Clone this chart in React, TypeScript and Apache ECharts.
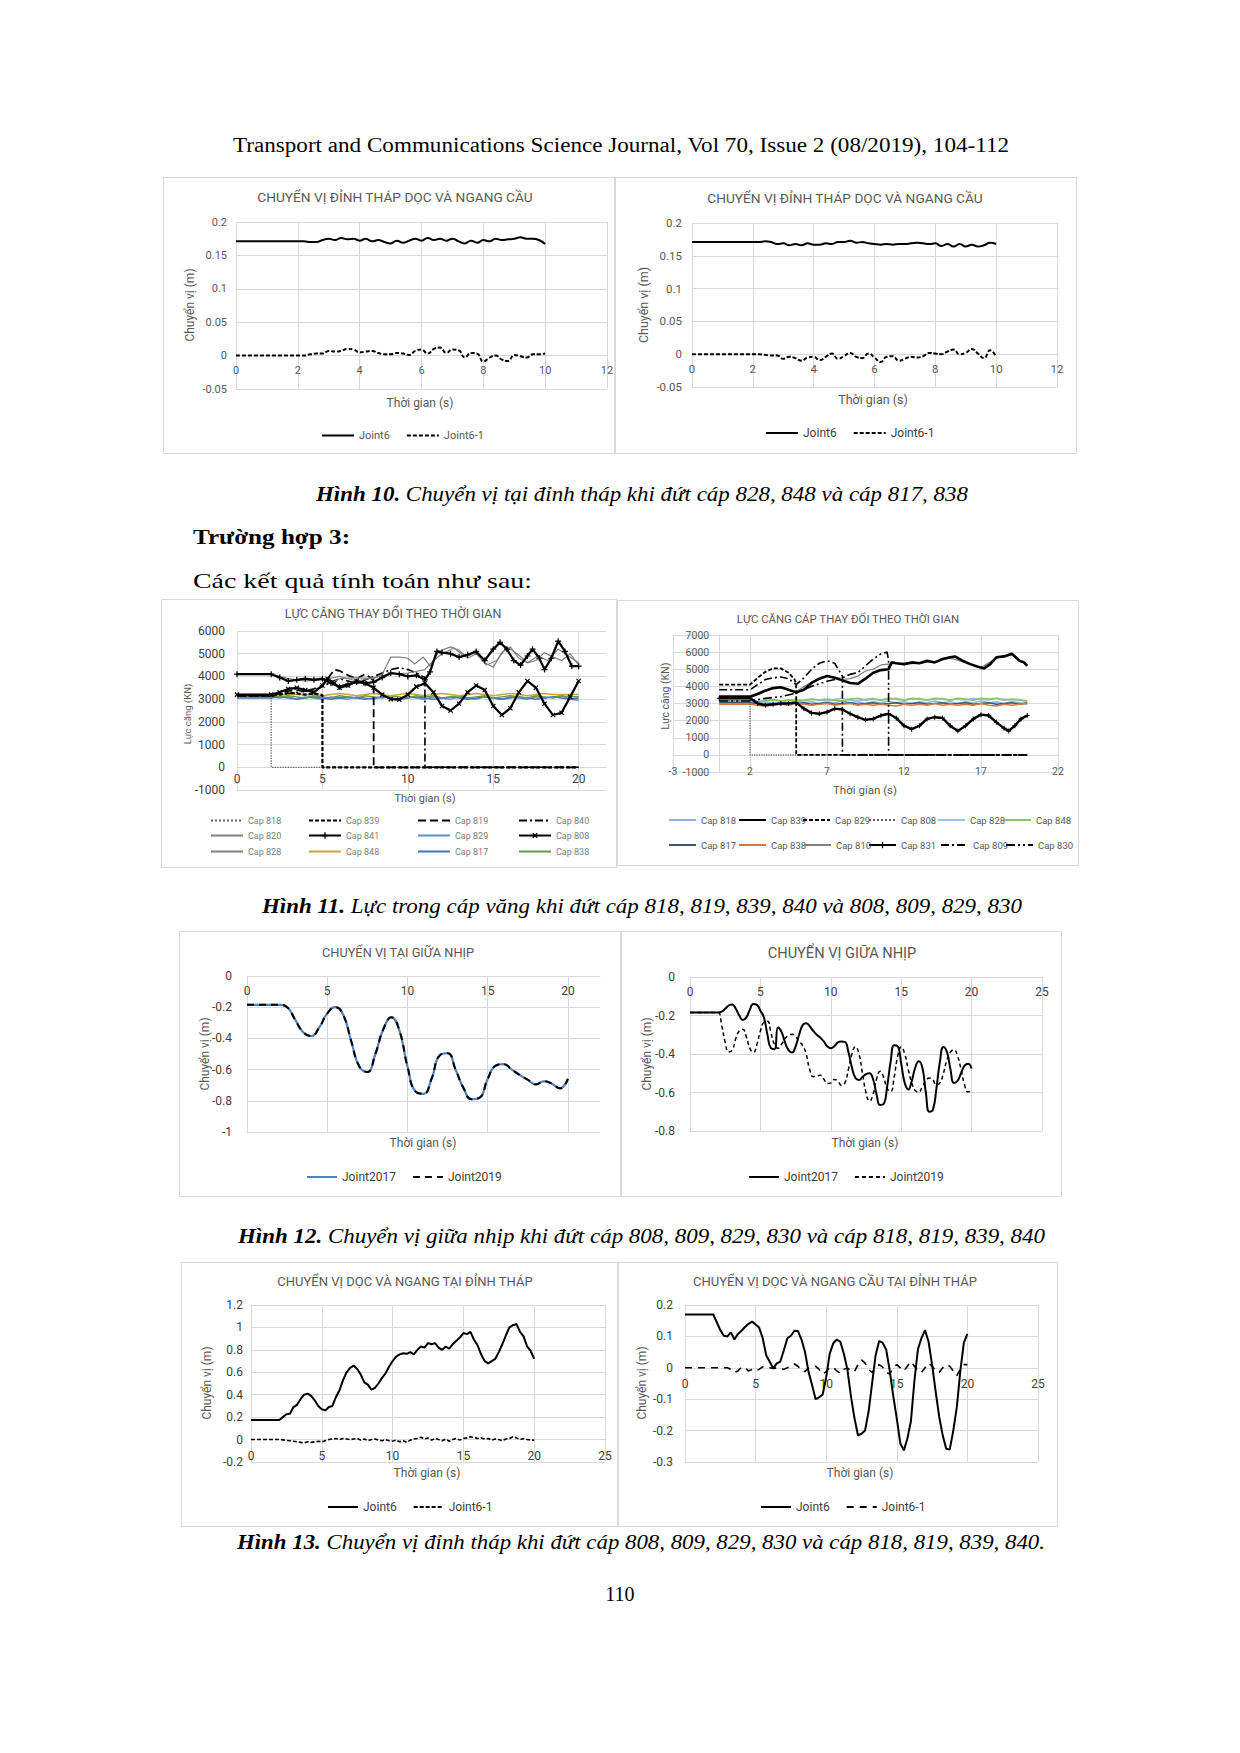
import React, { useEffect, useRef } from "react";
import * as echarts from "echarts";

const FONT = "Roboto, 'Noto Sans', sans-serif";
const SERIF = "'Liberation Serif', 'DejaVu Serif', serif";
const GRID_COLOR = "#d9d9d9";

// ---------------- Hình 10 (step 0.2 s) ----------------
const F10_STEP = 0.2;
const F10L_JOINT6 = [
  0.171, 0.171, 0.171, 0.171, 0.171, 0.171, 0.171, 0.171, 0.171, 0.171, 0.171, 0.171, 0.17, 0.17,
  0.173, 0.175, 0.173, 0.176, 0.174, 0.175, 0.172, 0.175, 0.171, 0.173,
  0.17, 0.168, 0.172, 0.169, 0.172, 0.175, 0.172, 0.176, 0.173, 0.175,
  0.172, 0.175, 0.171, 0.168, 0.172, 0.169, 0.173, 0.171, 0.175, 0.173,
  0.174, 0.175, 0.177, 0.175, 0.175, 0.173, 0.167,
];
const F10L_JOINT61 = [
  0, 0, 0, 0, 0, 0, 0, 0, 0, 0, 0, 0,
  0.002, 0.003, 0.003, 0.007, 0.006, 0.007, 0.01, 0.009, 0.005, 0.006,
  0.007, 0.004, 0.002, 0.002, 0.004, 0.003, 0.001, 0.007, 0.009, 0.003,
  0.01, 0.012, 0.004, 0.009, 0.008, -0.003, 0.004, 0.003, -0.009, -0.003,
  0.0, -0.006, -0.008, 0.001, -0.001, -0.003, 0.002, 0.002, 0.003,
];
const F10R_JOINT6 = [
  0.171, 0.171, 0.171, 0.171, 0.171, 0.171, 0.171, 0.171, 0.171, 0.171, 0.171, 0.171, 0.172, 0.171,
  0.168, 0.169, 0.166, 0.168, 0.166, 0.169, 0.167, 0.167, 0.169, 0.168,
  0.171, 0.171, 0.173, 0.17, 0.171, 0.169, 0.168, 0.167, 0.168, 0.167,
  0.168, 0.168, 0.169, 0.17, 0.169, 0.168, 0.169, 0.165, 0.168, 0.164,
  0.168, 0.164, 0.167, 0.164, 0.166, 0.17, 0.168,
];
const F10R_JOINT61 = [
  0, 0, 0, 0, 0, 0, 0, 0, 0, 0, 0, 0,
  -0.001, -0.002, -0.002, -0.007, -0.004, -0.006, -0.01, -0.005, -0.004, -0.009,
  -0.004, 0.001, -0.007, -0.003, 0.002, -0.004, -0.006, 0.001, -0.005, -0.012,
  -0.004, -0.003, -0.01, -0.007, -0.004, -0.005, -0.003, 0.002, 0.001, 0.0,
  0.004, 0.007, 0.0, 0.002, 0.008, 0.001, -0.006, 0.006, -0.004,
];

// ---------------- Hình 11 (KN) ----------------
const F11_STEP = 0.5;
const F11L_CAP818 = [[0, 3150], [2, 3150], [2, 0], [20, 0]];
const F11L_CAP839 = [[0, 3150], [2, 3150], [2.5, 3200], [3, 3280], [3.5, 3250], [4, 3200], [4.5, 3250], [5, 3180], [5, 0], [20, 0]];
const F11L_CAP819 = [[0, 3150], [2, 3150], [2.5, 3250], [3, 3350], [3.5, 3400], [4, 3350], [4.5, 3450], [5, 3600], [5.4, 4000], [5.7, 4300], [6, 4250], [6.5, 4050], [7, 3900], [7.5, 4100], [7.8, 3950], [8, 3800], [8, 0], [20, 0]];
const F11L_CAP840 = [[0, 3150], [2, 3150], [2.5, 3200], [3, 3250], [3.5, 3300], [4, 3350], [4.5, 3400], [5, 3550], [5.5, 3750], [6, 3900], [6.5, 3800], [7, 3700], [7.5, 3850], [8, 4000], [8.5, 4150], [9, 4300], [9.5, 4380], [10, 4300], [10.5, 4150], [11, 3950], [11, 0], [20, 0]];
const F11L_CAP820 = [[0, 4100], [2, 4100], [2.5, 3950], [3, 3800], [4, 3850], [5, 3900], [5.5, 3700], [6, 3900], [7, 3950], [8, 3900], [8.5, 4100], [9, 4850], [9.5, 4850], [10, 4800], [10.4, 4550], [10.9, 4850], [11.3, 4450], [11.8, 5100], [12.5, 5300], [13, 5150], [13.5, 4800], [14, 5000], [14.5, 4600], [15, 4400], [15.5, 5050], [16, 5300], [16.5, 4800], [17, 4600], [17.5, 4700], [18, 5050], [18.5, 4850], [19, 4700], [19.5, 5000], [20, 4500]];
const F11L_CAP841 = [[0, 4100], [2, 4100], [2.5, 3950], [3, 3800], [3.5, 3850], [4, 3900], [4.5, 3850], [5, 3900], [5.5, 3700], [6, 3550], [6.5, 3650], [7, 3750], [7.5, 3700], [8, 3750], [8.5, 3950], [9, 4150], [9.5, 4100], [10, 4000], [10.5, 4050], [11, 3850], [11.3, 4200], [11.7, 5100], [12, 5050], [12.5, 5000], [13, 4850], [13.5, 4950], [14, 5100], [14.5, 4700], [15, 5200], [15.4, 5500], [15.8, 5200], [16.2, 4700], [16.6, 4500], [17, 4900], [17.3, 5200], [17.7, 4800], [18, 4300], [18.4, 4800], [18.8, 5550], [19.2, 5100], [19.6, 4450], [20, 4450]];
const F11L_CAP829 = [3100, 3100, 3100, 3100, 3100, 3050, 3100, 3000, 3100, 3050, 3000, 3100, 3050, 3000, 3100, 3050, 3000, 3100, 3050, 3000, 3100, 3050, 3000, 3100, 3050, 3000, 3100, 3050, 3000, 3100, 3050, 3000, 3100, 3050, 3000, 3100, 3050, 3100, 3150, 3000, 2950];
const F11L_CAP808 = [[0, 3200], [2, 3200], [2.5, 3300], [3, 3450], [3.5, 3500], [4, 3400], [4.5, 3300], [5, 3600], [5.3, 3900], [5.7, 3700], [6, 3500], [6.5, 3600], [7, 3800], [7.5, 3700], [8, 3500], [8.5, 3200], [9, 3000], [9.5, 2980], [10, 3200], [10.5, 3550], [11, 3700], [11.5, 3300], [12, 2700], [12.5, 2500], [13, 2800], [13.5, 3300], [14, 3600], [14.5, 3400], [15, 2700], [15.5, 2300], [16, 2600], [16.5, 3300], [17, 3800], [17.5, 3500], [18, 2800], [18.5, 2300], [19, 2400], [19.5, 3100], [20, 3800]];
const F11L_CAP828 = [[0, 4100], [2, 4100], [3, 3900], [4, 3800], [5, 3850], [6, 4000], [7, 3800], [8, 3950], [9, 4100], [10, 4150], [11, 4300], [11.5, 4700], [12, 5000], [12.7, 5250], [13.3, 4900], [14, 5050], [14.6, 4500], [15.2, 4700], [15.8, 5300], [16.4, 5000], [17, 4600], [17.6, 4900], [18.2, 4700], [18.8, 5200], [19.4, 4900], [20, 4600]];
const F11L_CAP848 = [3200, 3200, 3200, 3200, 3200, 3180, 3220, 3200, 3180, 3220, 3150, 3200, 3250, 3200, 3150, 3200, 3250, 3200, 3150, 3200, 3250, 3200, 3150, 3200, 3250, 3200, 3150, 3200, 3250, 3200, 3150, 3200, 3250, 3200, 3150, 3200, 3250, 3200, 3200, 3200, 3200];
const F11L_CAP817 = [3050, 3050, 3050, 3050, 3050, 3100, 3050, 3000, 3050, 3100, 3050, 3000, 3050, 3100, 3050, 3000, 3050, 3100, 3050, 3000, 3050, 3100, 3050, 3000, 3050, 3100, 3050, 3000, 3050, 3100, 3050, 3000, 3050, 3100, 3050, 3000, 3050, 3100, 3050, 3000, 3050];
const F11L_CAP838 = [3150, 3150, 3150, 3150, 3150, 3100, 3150, 3100, 3050, 3150, 3100, 3050, 3150, 3100, 3050, 3150, 3100, 3050, 3150, 3100, 3050, 3150, 3100, 3150, 3050, 3100, 3150, 3050, 3100, 3150, 3050, 3100, 3150, 3100, 3050, 3150, 3100, 3050, 3150, 3100, 3100];

const F11R_CAP818 = [3100, 3100, 3100, 3100, 3100, 3050, 3100, 3000, 3100, 3050, 3150, 3050, 3100, 3000, 3100, 3050, 3150, 3050, 3100, 3000, 3100, 3050, 3150, 3050, 3100, 3000, 3100, 3050, 3150, 3050, 3100, 3000, 3100, 3050, 3150, 3050, 3100, 3000, 3100, 3050, 2950];
const F11R_CAP839 = [[0, 3400], [2, 3400], [2.5, 3550], [3, 3750], [3.5, 3900], [4, 3950], [4.5, 3800], [5, 3650], [5.5, 3800], [6, 4200], [6.5, 4450], [7, 4600], [7.5, 4500], [8, 4350], [8.5, 4200], [9, 4150], [9.5, 4450], [10, 4800], [10.5, 4950], [11, 5000], [11.2, 5400], [11.5, 5350], [12, 5300], [12.5, 5400], [13, 5350], [13.5, 5500], [14, 5400], [14.5, 5600], [15, 5700], [15.3, 5750], [15.8, 5500], [16.3, 5300], [16.8, 5150], [17.2, 5050], [17.6, 5300], [18, 5700], [18.5, 5750], [19, 5900], [19.5, 5500], [19.8, 5400], [20, 5200]];
const F11R_CAP829 = [[0, 4100], [2, 4100], [2.5, 4500], [3, 4850], [3.5, 5050], [4, 5050], [4.5, 4800], [4.9, 4400], [5, 4150], [5, 0], [20, 0]];
const F11R_CAP808 = [[0, 3150], [2, 3150], [2, 0], [20, 0]];
const F11R_CAP828 = [3200, 3200, 3200, 3200, 3200, 3150, 3200, 3250, 3150, 3200, 3250, 3150, 3250, 3200, 3150, 3250, 3300, 3200, 3150, 3250, 3300, 3200, 3250, 3300, 3200, 3250, 3300, 3200, 3250, 3300, 3200, 3250, 3200, 3300, 3250, 3200, 3300, 3250, 3200, 3250, 3100];
const F11R_CAP848 = [3150, 3150, 3150, 3150, 3150, 3100, 3150, 3200, 3150, 3200, 3150, 3200, 3250, 3200, 3250, 3200, 3150, 3250, 3300, 3200, 3250, 3200, 3300, 3250, 3200, 3300, 3250, 3200, 3300, 3250, 3200, 3300, 3250, 3200, 3300, 3250, 3300, 3200, 3250, 3200, 3150];
const F11R_CAP817 = [3050, 3050, 3050, 3050, 3050, 3000, 2950, 3000, 2950, 3050, 3000, 3050, 2950, 3000, 3050, 2950, 3000, 3050, 2950, 3000, 3050, 2950, 3000, 3050, 2950, 3000, 3050, 2950, 3000, 3050, 2950, 3000, 3050, 2950, 3000, 3050, 2950, 3000, 3050, 2950, 3050];
const F11R_CAP838 = [2950, 2950, 2950, 2950, 2950, 2900, 2850, 2900, 2950, 2900, 3000, 2950, 2900, 2950, 3000, 2900, 2950, 3000, 2900, 2950, 2900, 2950, 2900, 2850, 2950, 2900, 2950, 2900, 3000, 2900, 2950, 2900, 2950, 2900, 3000, 2900, 2850, 2950, 2900, 2950, 3000];
const F11R_CAP810 = [[0, 3400], [2, 3400], [3, 3800], [4, 3950], [5, 3700], [6, 4250], [7, 4600], [8, 4400], [8.5, 4450], [9, 4600], [9.5, 4900], [10, 5000], [10.5, 5250], [11, 5300], [11.5, 5350], [12, 5300], [13, 5350], [14, 5450], [15, 5650], [16, 5400], [17, 5100], [18, 5650], [19, 5850], [20, 5200]];
const F11R_CAP831 = [[0, 3300], [2, 3300], [2.5, 3000], [3, 2900], [3.5, 2950], [4, 3000], [4.5, 3000], [5, 3050], [5.5, 2700], [6, 2450], [6.5, 2400], [7, 2500], [7.5, 2700], [8, 2650], [8.5, 2400], [9, 2200], [9.5, 2050], [10, 2100], [10.5, 2300], [11, 2400], [11.5, 2150], [12, 1700], [12.5, 1500], [13, 1700], [13.5, 2100], [14, 2200], [14.5, 2150], [15, 1700], [15.5, 1400], [16, 1700], [16.5, 2100], [17, 2350], [17.5, 2300], [18, 1900], [18.5, 1550], [18.8, 1400], [19.2, 1700], [19.6, 2100], [20, 2300]];
const F11R_CAP809 = [[0, 3800], [2, 3800], [2.5, 4100], [3, 4400], [3.5, 4500], [4, 4550], [4.5, 4450], [5, 4100], [5.5, 4500], [6, 5000], [6.5, 5350], [7, 5500], [7.5, 5350], [8, 4600], [8, 0], [20, 0]];
const F11R_CAP830 = [[0, 3150], [2, 3150], [3, 3300], [4, 3400], [5, 3600], [6, 4000], [7, 4300], [8, 4500], [8.5, 4700], [9, 4800], [9.5, 5200], [10, 5600], [10.5, 5900], [10.9, 6000], [11, 5500], [11, 0], [20, 0]];

// ---------------- Hình 12 ----------------
const F12L_STEP = 0.5;
const F12L_J2017 = [
  -0.185, -0.185, -0.185, -0.185, -0.185, -0.2, -0.28, -0.36, -0.385, -0.33,
  -0.24, -0.2, -0.25, -0.42, -0.58, -0.615, -0.5, -0.34, -0.265, -0.35,
  -0.58, -0.74, -0.755, -0.66, -0.51, -0.495, -0.6, -0.72, -0.79, -0.78,
  -0.66, -0.575, -0.565, -0.6, -0.635, -0.665, -0.695, -0.675, -0.69, -0.72, -0.66,
];
const F12L_J2019 = [
  -0.185, -0.185, -0.185, -0.185, -0.185, -0.2, -0.28, -0.36, -0.385, -0.33,
  -0.24, -0.2, -0.25, -0.42, -0.58, -0.615, -0.5, -0.34, -0.265, -0.35,
  -0.58, -0.74, -0.755, -0.66, -0.51, -0.495, -0.6, -0.72, -0.79, -0.78,
  -0.66, -0.575, -0.565, -0.6, -0.635, -0.665, -0.695, -0.675, -0.69, -0.72, -0.66,
];
const F12R_STEP = 0.25;
const F12R_J2017 = [
  -0.185, -0.185, -0.185, -0.185, -0.185, -0.185, -0.185, -0.185, -0.185,
  -0.18, -0.165, -0.148, -0.143, -0.165, -0.2, -0.224, -0.21,
  -0.17, -0.14, -0.145, -0.175, -0.21, -0.3, -0.37, -0.375,
  -0.262, -0.285, -0.34, -0.38, -0.392, -0.36, -0.3, -0.25,
  -0.24, -0.255, -0.28, -0.3, -0.315, -0.335, -0.36, -0.37,
  -0.36, -0.34, -0.335, -0.337, -0.39, -0.47, -0.525, -0.535,
  -0.52, -0.505, -0.5, -0.53, -0.61, -0.665, -0.66, -0.57,
  -0.44, -0.355, -0.36, -0.45, -0.55, -0.584, -0.54, -0.47,
  -0.438, -0.47, -0.6, -0.7, -0.69, -0.58, -0.44, -0.363,
  -0.39, -0.48, -0.55, -0.54, -0.5, -0.46, -0.45, -0.475,
];
const F12R_J2019 = [
  -0.185, -0.185, -0.185, -0.185, -0.185, -0.185, -0.185, -0.185, -0.185,
  -0.25, -0.34, -0.39, -0.38, -0.32, -0.28, -0.272, -0.31,
  -0.37, -0.392, -0.35, -0.28, -0.235, -0.23, -0.29, -0.35,
  -0.37, -0.35, -0.32, -0.305, -0.298, -0.31, -0.335, -0.355,
  -0.4, -0.48, -0.518, -0.515, -0.51, -0.53, -0.553, -0.55,
  -0.532, -0.54, -0.562, -0.55, -0.48, -0.4, -0.362, -0.4,
  -0.5, -0.6, -0.645, -0.61, -0.53, -0.49, -0.52, -0.58,
  -0.595, -0.52, -0.41, -0.363, -0.4, -0.48, -0.55, -0.59,
  -0.598, -0.57, -0.54, -0.525, -0.535, -0.56, -0.55, -0.5,
  -0.43, -0.39, -0.378, -0.41, -0.48, -0.56, -0.597, -0.59,
];

// ---------------- Hình 13 (step 0.25 s) ----------------
const F13_STEP = 0.25;
const F13L_JOINT6 = [
  0.175, 0.175, 0.175, 0.175, 0.175, 0.175, 0.175, 0.175, 0.175,
  0.2, 0.225, 0.23, 0.29, 0.31, 0.36, 0.4, 0.41,
  0.39, 0.35, 0.3, 0.27, 0.26, 0.29, 0.3, 0.38,
  0.44, 0.53, 0.6, 0.64, 0.66, 0.63, 0.58, 0.51,
  0.49, 0.445, 0.46, 0.5, 0.55, 0.59, 0.65, 0.7,
  0.74, 0.76, 0.77, 0.765, 0.78, 0.76, 0.8, 0.83,
  0.82, 0.86, 0.85, 0.86, 0.82, 0.8, 0.83, 0.81,
  0.85, 0.88, 0.91, 0.95, 0.94, 0.96, 0.89, 0.84,
  0.76, 0.7, 0.68, 0.7, 0.72, 0.78, 0.85, 0.93,
  1.0, 1.02, 1.03, 0.96, 0.92, 0.83, 0.79, 0.72,
];
const F13L_JOINT61 = [
  0, 0, 0, 0, 0, 0, 0, 0, 0,
  -0.003, -0.008, -0.01, -0.015, -0.02, -0.025, -0.03, -0.02,
  -0.025, -0.02, -0.015, -0.02, -0.01, 0, 0.005, 0.01,
  0, 0.01, 0.005, 0, 0.005, 0.01, -0.005, 0.005,
  -0.01, 0, 0.005, -0.005, -0.01, 0, -0.01, -0.015,
  -0.005, -0.02, -0.01, -0.025, -0.005, 0.005, 0.01, 0.02,
  0.005, 0.015, -0.005, 0.01, 0, -0.01, 0.005, -0.015,
  0, 0.01, -0.005, 0.01, 0.015, 0.025, 0.02, 0.01,
  0.015, 0.005, 0.01, -0.005, 0.005, 0, -0.01, 0.005,
  0.01, 0.025, 0.015, 0, 0.01, 0, -0.005, -0.005,
];
const F13R_JOINT6 = [
  0.17, 0.17, 0.17, 0.17, 0.17, 0.17, 0.17, 0.17, 0.17,
  0.145, 0.12, 0.102, 0.1, 0.113, 0.09, 0.108, 0.118,
  0.13, 0.14, 0.147, 0.138, 0.128, 0.095, 0.04, 0.019,
  -0.002, 0.014, 0.02, 0.056, 0.094, 0.102, 0.118, 0.117,
  0.09, 0.05, -0.013, -0.055, -0.1, -0.094, -0.085, -0.03,
  0.045, 0.078, 0.09, 0.083, 0.045, -0.005, -0.09, -0.16,
  -0.215, -0.21, -0.2, -0.14, -0.05, 0.04, 0.085, 0.08,
  0.058, -0.01, -0.09, -0.162, -0.241, -0.263, -0.225, -0.17,
  -0.04, 0.06, 0.095, 0.12, 0.083, 0.009, -0.075, -0.155,
  -0.215, -0.258, -0.26, -0.2, -0.125, -0.01, 0.08, 0.108,
];
const F13R_JOINT61 = [
  0, 0, 0, 0, 0, 0, 0, 0, 0, 0, 0, 0, 0,
  -0.005, -0.015, -0.01, 0.002, 0, -0.01, -0.005, -0.01,
  -0.005, 0.003, 0, 0, -0.002, 0, -0.003, -0.005,
  0, 0.005, 0.012, 0.005, -0.01, -0.012, 0, 0.003,
  0.005, -0.005, -0.02, -0.012, 0, 0.002, -0.01, -0.018,
  -0.005, 0, -0.01, -0.012, 0.01, 0.025, 0.015, -0.005,
  -0.015, 0, 0.01, 0.002, -0.015, -0.02, 0, 0.01,
  0, -0.01, 0.005, 0.02, 0.005, -0.01, -0.015, 0,
  0.015, 0.005, -0.01, -0.015, 0, 0.01, 0.005, -0.01,
  -0.025, -0.005, 0.01, 0.01,
];

// ---------------- helpers ----------------
const PLUS = "path://M0,4L10,4L10,6L0,6Z M4,0L6,0L6,10L4,10Z";

function steps(values: number[], step: number) {
  return values.map((v, i) => [i * step, v]);
}

function line(name: string, data: any[], color: string, width: number, type: any, extra: any = {}) {
  return {
    name,
    type: "line",
    data,
    symbol: "none",
    lineStyle: { color, width, type },
    itemStyle: { color },
    emphasis: { disabled: true },
    ...extra,
  };
}

function marked(name: string, data: any[], color: string, width: number, size: number, rotate: number) {
  return line(name, data, color, width, "solid", {
    symbol: PLUS,
    symbolSize: size,
    symbolRotate: rotate,
    showSymbol: true,
    showAllSymbol: true,
  });
}

type Cfg = {
  grid: number[];
  x: number[];
  y: number[];
  title: [string, number, number, number];
  yName: [string, number, number, number];
  xName: [string, number, number, number];
  labelSize: number;
  labelColor: string;
  xMargin: number;
  yMargin: number;
  xOffset: number;
  yOffset?: number;
  hideMaxX?: boolean;
  yLine?: boolean;
  legend: any;
  series: any[];
};

function txt(t: [string, number, number, number], color: string, rot = 0) {
  return {
    type: "text",
    x: t[1],
    y: t[2],
    rotation: rot,
    style: {
      text: t[0],
      fontSize: t[3],
      fill: color,
      fontFamily: FONT,
      align: "center",
      verticalAlign: "middle",
      textAlign: "center",
      textVerticalAlign: "middle",
    },
  };
}

function buildOption(c: Cfg) {
  return {
    animation: false,
    textStyle: { fontFamily: FONT },
    grid: {
      left: c.grid[0],
      top: c.grid[1],
      width: c.grid[2],
      height: c.grid[3],
      containLabel: false,
      outerBoundsMode: "none",
    },
    xAxis: {
      type: "value",
      position: "bottom",
      offset: c.xOffset,
      min: c.x[0],
      max: c.x[1],
      interval: c.x[2],
      axisLine: { show: true, onZero: false, lineStyle: { color: GRID_COLOR, width: 1 } },
      axisTick: { show: false },
      axisLabel: {
        fontSize: c.labelSize,
        color: c.labelColor,
        margin: c.xMargin,
        showMinLabel: true,
        showMaxLabel: !c.hideMaxX,
        hideOverlap: false,
        formatter: (v: number) => String(v),
      },
      splitLine: { show: true, showMaxLine: !c.hideMaxX, lineStyle: { color: GRID_COLOR, width: 1 } },
    },
    yAxis: {
      type: "value",
      position: "left",
      offset: c.yOffset || 0,
      min: c.y[0],
      max: c.y[1],
      interval: c.y[2],
      axisLine: { show: !!c.yLine, onZero: false, lineStyle: { color: GRID_COLOR, width: 1 } },
      axisTick: { show: false },
      axisLabel: {
        fontSize: c.labelSize,
        color: c.labelColor,
        margin: c.yMargin,
        showMinLabel: true,
        showMaxLabel: true,
        hideOverlap: false,
        formatter: (v: number) => String(v),
      },
      splitLine: { show: true, lineStyle: { color: GRID_COLOR, width: 1 } },
    },
    legend: c.legend,
    series: c.series,
    graphic: [
      txt(c.title, "#595959"),
      txt(c.yName, "#595959", Math.PI / 2),
      txt(c.xName, "#595959"),
    ],
  };
}

function simpleLegend(names: string[], left: number, top: number, iconW: number, gap: number, size: number, color: string) {
  return {
    data: names,
    left,
    top,
    padding: 0,
    itemWidth: iconW,
    itemHeight: 8,
    itemGap: gap,
    selectedMode: false,
    itemStyle: { opacity: 0 },
    textStyle: { fontSize: size, color, fontFamily: FONT },
  };
}

function gridLegend(rows: string[][], cols: number[][], rowY: number[], iconW: number, size: number, color: string, marks: string[]) {
  const out: any[] = [];
  rows.forEach((row, r) =>
    row.forEach((name, i) =>
      out.push({
        data: [name],
        left: cols[r][i],
        top: rowY[r] - 6,
        padding: 0,
        itemWidth: iconW,
        itemHeight: 8,
        itemGap: 0,
        selectedMode: false,
        itemStyle: marks.indexOf(name) >= 0 ? {} : { opacity: 0 },
        textStyle: { fontSize: size, color, fontFamily: FONT },
      })
    )
  );
  return out;
}

// ---------------- options ----------------
const OPT_F10L = buildOption({
  grid: [73, 45, 371, 167],
  x: [0, 12, 2],
  y: [-0.05, 0.2, 0.05],
  title: ["CHUYỂN VỊ ĐỈNH THÁP DỌC VÀ NGANG CẦU", 232, 20, 13.7],
  yName: ["Chuyển vị (m)", 27, 128, 12],
  xName: ["Thời gian (s)", 257, 226, 12],
  labelSize: 11,
  labelColor: "#595959",
  xMargin: 9,
  yMargin: 9,
  xOffset: -33.4,
  legend: simpleLegend(["Joint6", "Joint6-1"], 158, 253, 32, 16, 11, "#595959"),
  series: [
    line("Joint6", steps(F10L_JOINT6, F10_STEP), "#000000", 2, "solid", { smooth: true }),
    line("Joint6-1", steps(F10L_JOINT61, F10_STEP), "#000000", 2, [4, 2], { smooth: true }),
  ],
});

const OPT_F10R = buildOption({
  grid: [77, 46, 365, 164],
  x: [0, 12, 2],
  y: [-0.05, 0.2, 0.05],
  title: ["CHUYỂN VỊ ĐỈNH THÁP DỌC VÀ NGANG CẦU", 230, 21, 13.7],
  yName: ["Chuyển vị (m)", 28, 128, 12.5],
  xName: ["Thời gian (s)", 258, 222, 12.5],
  labelSize: 11.5,
  labelColor: "#595959",
  xMargin: 9,
  yMargin: 10,
  xOffset: -32.8,
  legend: simpleLegend(["Joint6", "Joint6-1"], 150, 250, 32, 16, 12, "#404040"),
  series: [
    line("Joint6", steps(F10R_JOINT6, F10_STEP), "#000000", 2, "solid", { smooth: true }),
    line("Joint6-1", steps(F10R_JOINT61, F10_STEP), "#000000", 2, [4, 2], { smooth: true }),
  ],
});

const OPT_F11L = buildOption({
  grid: [76, 32, 369, 159],
  x: [0, 21.6, 5],
  y: [-1000, 6000, 1000],
  title: ["LỰC CĂNG THAY ĐỔI THEO THỜI GIAN", 232, 14, 12.5],
  yName: ["Lực căng (KN)", 26, 115, 9.5],
  xName: ["Thời gian (s)", 264, 199, 11],
  labelSize: 12,
  labelColor: "#404040",
  xMargin: 6,
  yMargin: 12,
  xOffset: -22.7,
  hideMaxX: true,
  legend: gridLegend(
    [
      ["Cap 818", "Cap 839", "Cap 819", "Cap 840"],
      ["Cap 820", "Cap 841", "Cap 829", "Cap 808"],
      ["Cap 828", "Cap 848", "Cap 817", "Cap 838"],
    ],
    [
      [49, 147, 256, 357],
      [49, 147, 256, 357],
      [49, 147, 256, 357],
    ],
    [223, 238, 254],
    32,
    9,
    "#808080",
    ["Cap 841", "Cap 808"]
  ),
  series: [
    line("Cap 829", steps(F11L_CAP829, F11_STEP), "#5b8fd0", 1.5, "solid"),
    line("Cap 817", steps(F11L_CAP817, F11_STEP), "#4472c4", 1.5, "solid"),
    line("Cap 838", steps(F11L_CAP838, F11_STEP), "#5f9a45", 1.5, "solid"),
    line("Cap 848", steps(F11L_CAP848, F11_STEP), "#c9a43a", 1.5, "solid"),
    line("Cap 818", F11L_CAP818, "#606060", 1.3, "dotted"),
    line("Cap 839", F11L_CAP839, "#000000", 2.2, [4, 2]),
    line("Cap 819", F11L_CAP819, "#000000", 1.8, [8, 4]),
    line("Cap 840", F11L_CAP840, "#000000", 1.6, [8, 3, 2, 3]),
    line("Cap 820", F11L_CAP820, "#7f7f7f", 1.2, "solid"),
    line("Cap 828", F11L_CAP828, "#7f7f7f", 1.2, "solid"),
    marked("Cap 841", F11L_CAP841, "#000000", 2.2, 6, 0),
    marked("Cap 808", F11L_CAP808, "#000000", 2.2, 6, 45),
  ],
});

const OPT_F11R = buildOption({
  grid: [56, 35, 385, 137],
  x: [-3, 22, 5],
  y: [-1000, 7000, 1000],
  title: ["LỰC CĂNG CÁP THAY ĐỔI THEO THỜI GIAN", 231, 19, 11.4],
  yName: ["Lực căng (KN)", 48, 96, 10.5],
  xName: ["Thời gian (s)", 248, 190, 11.5],
  labelSize: 10.5,
  labelColor: "#595959",
  xMargin: -6,
  yMargin: 10,
  xOffset: 0,
  yOffset: -46.2,
  yLine: true,
  legend: gridLegend(
    [
      ["Cap 818", "Cap 839", "Cap 829", "Cap 808", "Cap 828", "Cap 848"],
      ["Cap 817", "Cap 838", "Cap 810", "Cap 831", "Cap 809", "Cap 830"],
    ],
    [
      [51, 121, 185, 251, 320, 386],
      [51, 121, 186, 251, 323, 388],
    ],
    [221, 246],
    27,
    9.5,
    "#595959",
    ["Cap 831"]
  ),
  series: [
    line("Cap 818", steps(F11R_CAP818, F11_STEP), "#8fb4e3", 1.5, "solid"),
    line("Cap 828", steps(F11R_CAP828, F11_STEP), "#9dc3e6", 1.5, "solid"),
    line("Cap 848", steps(F11R_CAP848, F11_STEP), "#8cc36a", 1.8, "solid"),
    line("Cap 817", steps(F11R_CAP817, F11_STEP), "#44546a", 1.5, "solid"),
    line("Cap 838", steps(F11R_CAP838, F11_STEP), "#d9773f", 1.5, "solid"),
    line("Cap 808", F11R_CAP808, "#606060", 1.2, "dotted"),
    line("Cap 829", F11R_CAP829, "#000000", 1.8, [4, 2]),
    line("Cap 809", F11R_CAP809, "#000000", 1.6, [8, 3, 2, 3]),
    line("Cap 830", F11R_CAP830, "#000000", 1.6, [9, 3, 2, 3, 2, 3]),
    line("Cap 810", F11R_CAP810, "#7f7f7f", 1.2, "solid"),
    line("Cap 839", F11R_CAP839, "#000000", 2.6, "solid"),
    marked("Cap 831", F11R_CAP831, "#000000", 2.4, 5, 0),
  ],
});

const OPT_F12L = buildOption({
  grid: [68, 45, 353, 156],
  x: [0, 22, 5],
  y: [-1, 0, 0.2],
  title: ["CHUYỂN VỊ TẠI GIỮA NHỊP", 219, 21, 12.8],
  yName: ["Chuyển vị (m)", 26, 123, 12],
  xName: ["Thời gian (s)", 244, 212, 12],
  labelSize: 12,
  labelColor: "#404040",
  xMargin: 9,
  yMargin: 15,
  xOffset: -156,
  hideMaxX: true,
  legend: simpleLegend(["Joint2017", "Joint2019"], 127, 240, 30, 16, 12, "#404040"),
  series: [
    line("Joint2017", steps(F12L_J2017, F12L_STEP), "#4f81bd", 2.2, "solid", { smooth: true }),
    line("Joint2019", steps(F12L_J2019, F12L_STEP), "#000000", 2, [7, 5], { smooth: true }),
  ],
});

const OPT_F12R = buildOption({
  grid: [69, 46, 352, 154],
  x: [0, 25, 5],
  y: [-0.8, 0, 0.2],
  title: ["CHUYỂN VỊ GIỮA NHỊP", 221, 22, 14.6],
  yName: ["Chuyển vị (m)", 26, 123, 12],
  xName: ["Thời gian (s)", 244, 212, 12],
  labelSize: 12,
  labelColor: "#404040",
  xMargin: 9,
  yMargin: 15,
  xOffset: -154,
  legend: simpleLegend(["Joint2017", "Joint2019"], 127, 240, 30, 16, 12, "#404040"),
  series: [
    line("Joint2017", steps(F12R_J2017, F12R_STEP), "#000000", 2, "solid", { smooth: true }),
    line("Joint2019", steps(F12R_J2019, F12R_STEP), "#000000", 1.5, [4, 3], { smooth: true }),
  ],
});

const OPT_F13L = buildOption({
  grid: [70, 43, 354, 157],
  x: [0, 25, 5],
  y: [-0.2, 1.2, 0.2],
  title: ["CHUYỂN VỊ DỌC VÀ NGANG TẠI ĐỈNH THÁP", 224, 19, 13],
  yName: ["Chuyển vị (m)", 26, 121, 12],
  xName: ["Thời gian (s)", 246, 211, 12],
  labelSize: 12,
  labelColor: "#404040",
  xMargin: 10,
  yMargin: 8,
  xOffset: -22.4,
  legend: simpleLegend(["Joint6", "Joint6-1"], 146, 239, 30, 16, 12, "#404040"),
  series: [
    line("Joint6", steps(F13L_JOINT6, F13_STEP), "#000000", 2, "solid"),
    line("Joint6-1", steps(F13L_JOINT61, F13_STEP), "#000000", 1.6, [4, 2]),
  ],
});

const OPT_F13R = buildOption({
  grid: [67, 43, 353, 157],
  x: [0, 25, 5],
  y: [-0.3, 0.2, 0.1],
  title: ["CHUYỂN VỊ DỌC VÀ NGANG CẦU TẠI ĐỈNH THÁP", 217, 19, 13],
  yName: ["Chuyển vị (m)", 24, 121, 12],
  xName: ["Thời gian (s)", 242, 211, 12],
  labelSize: 12,
  labelColor: "#404040",
  xMargin: 10,
  yMargin: 12,
  xOffset: -94.2,
  legend: simpleLegend(["Joint6", "Joint6-1"], 142, 239, 30, 16, 12, "#404040"),
  series: [
    line("Joint6", steps(F13R_JOINT6, F13_STEP), "#000000", 2, "solid"),
    line("Joint6-1", steps(F13R_JOINT61, F13_STEP), "#000000", 1.6, [7, 6]),
  ],
});

function Panel({ box, option }: { box: number[]; option: any }) {
  const ref = useRef<HTMLDivElement>(null);
  useEffect(() => {
    const chart = echarts.init(ref.current as HTMLDivElement, null, { renderer: "svg" });
    chart.setOption(option);
    return () => chart.dispose();
  }, [option]);
  return (
    <>
      <div
        ref={ref}
        style={{ position: "absolute", left: box[0], top: box[1], width: box[2], height: box[3], background: "#fff" }}
      />
      <div
        style={{
          position: "absolute",
          left: box[0],
          top: box[1],
          width: box[2],
          height: box[3],
          border: "1px solid #d9d9d9",
          boxSizing: "border-box",
          pointerEvents: "none",
        }}
      />
    </>
  );
}

function Caption({ x, y, w, bold, rest }: { x: number; y: number; w: number; bold: string; rest: string }) {
  return (
    <text x={x} y={y} fontSize={20} fontStyle="italic" textLength={w} lengthAdjust="spacingAndGlyphs">
      <tspan fontWeight="bold">{bold}</tspan>
      {rest}
    </text>
  );
}

export default function App() {
  return (
    <div style={{ position: "absolute", left: 0, top: 0, width: 1240, height: 1753, background: "#fff" }}>
      <svg
        width={1240}
        height={1753}
        style={{ position: "absolute", left: 0, top: 0 }}
        fontFamily={SERIF}
        fill="#000"
      >
        <text x={233} y={152} fontSize={20} textLength={776} lengthAdjust="spacingAndGlyphs">
          Transport and Communications Science Journal, Vol 70, Issue 2 (08/2019), 104-112
        </text>
        <Caption x={316} y={501} w={652} bold="Hình 10." rest=" Chuyển vị tại đỉnh tháp khi đứt cáp 828, 848 và cáp 817, 838" />
        <text x={193} y={544} fontSize={22} fontWeight="bold" textLength={157} lengthAdjust="spacingAndGlyphs">
          Trường hợp 3:
        </text>
        <text x={193} y={588} fontSize={21} textLength={339} lengthAdjust="spacingAndGlyphs">
          Các kết quả tính toán như sau:
        </text>
        <Caption x={262} y={913} w={760} bold="Hình 11." rest=" Lực trong cáp văng khi đứt cáp 818, 819, 839, 840 và 808, 809, 829, 830" />
        <Caption x={238} y={1243} w={807} bold="Hình 12." rest=" Chuyển vị giữa nhịp khi đứt cáp 808, 809, 829, 830 và cáp 818, 819, 839, 840" />
        <Caption x={237} y={1549} w={808} bold="Hình 13." rest=" Chuyển vị đỉnh tháp khi đứt cáp 808, 809, 829, 830 và cáp 818, 819, 839, 840." />
        <text x={620} y={1601} fontSize={20} textAnchor="middle">
          110
        </text>
      </svg>
      <Panel box={[163, 177, 452, 277]} option={OPT_F10L} />
      <Panel box={[615, 177, 462, 277]} option={OPT_F10R} />
      <Panel box={[161, 599, 456, 269]} option={OPT_F11L} />
      <Panel box={[617, 600, 462, 266]} option={OPT_F11R} />
      <Panel box={[179, 931, 442, 266]} option={OPT_F12L} />
      <Panel box={[621, 931, 441, 266]} option={OPT_F12R} />
      <Panel box={[181, 1262, 437, 265]} option={OPT_F13L} />
      <Panel box={[618, 1262, 440, 265]} option={OPT_F13R} />
    </div>
  );
}
